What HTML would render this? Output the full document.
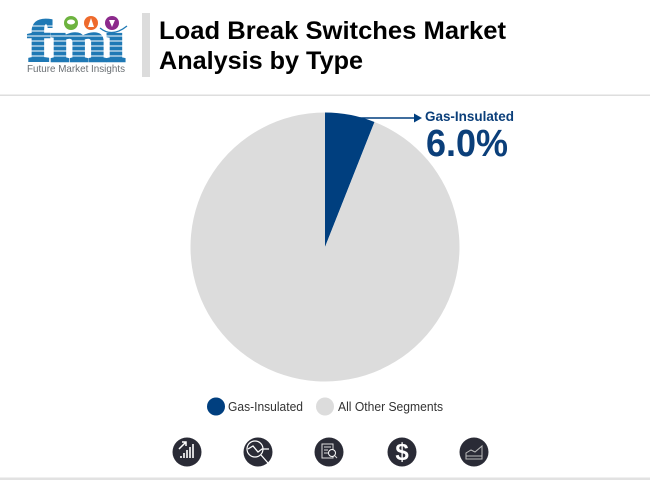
<!DOCTYPE html>
<html lang="en">
<head>
<meta charset="utf-8">
<title>Load Break Switches Market Analysis by Type</title>
<style>
html,body{margin:0;padding:0;background:#fff;width:650px;height:480px;overflow:hidden}
svg{display:block}
text{font-family:"Liberation Sans",sans-serif}
</style>
</head>
<body>
<svg id="chart" width="650" height="480" viewBox="0 0 650 480" xmlns="http://www.w3.org/2000/svg">
  <g>
    <text x="28" y="61" font-size="58" font-weight="700" fill="#1f79b5" stroke="#1f79b5" stroke-width="2.6" textLength="97" lengthAdjust="spacingAndGlyphs" style="font-family:'Liberation Serif',serif">fmı</text>
    <g fill="#fff">
      <rect x="25" y="25.500" width="105" height="1"/>
      <rect x="25" y="30.500" width="105" height="1"/>
      <rect x="25" y="35.500" width="105" height="1"/>
      <rect x="25" y="40.500" width="105" height="1"/>
      <rect x="25" y="45.500" width="105" height="1"/>
      <rect x="25" y="50.500" width="105" height="1"/>
      <rect x="25" y="55.500" width="105" height="1"/>
    </g>
    <circle cx="71" cy="23" r="7" fill="#6db33f"/>
    <ellipse cx="71" cy="22" rx="4" ry="2.500" fill="#fff"/>
    <circle cx="91" cy="23" r="7" fill="#ee6a2c"/>
    <path d="M88 27 L91 18 L94 27 Z" fill="#fff"/>
    <circle cx="112" cy="23" r="7" fill="#8c2a8c"/>
    <path d="M109 20 H115 L112 27 Z" fill="#fff"/>
    <path d="M100 28 Q112 38 127 26" fill="none" stroke="#1f79b5" stroke-width="1.3"/>
    <text x="27" y="72" font-size="10.500" fill="#6a6f73" textLength="98" lengthAdjust="spacingAndGlyphs">Future Market Insights</text>
  </g>
  <rect x="142" y="13" width="8" height="64" fill="#dcdcdc"/>
  <text x="159" y="39" font-size="25" font-weight="700" fill="#000" textLength="347" lengthAdjust="spacingAndGlyphs">Load Break Switches Market</text>
  <text x="159" y="69" font-size="25" font-weight="700" fill="#000" textLength="204" lengthAdjust="spacingAndGlyphs">Analysis by Type</text>
  <rect x="0" y="94.500" width="650" height="1.500" fill="#dedede"/>

  <g id="slices"></g>

  <g>
    <line x1="360" y1="118" x2="415" y2="118" stroke="#003f7f" stroke-width="1.500"/>
    <path d="M414 113.500 L422 118 L414 122.500 Z" fill="#003f7f"/>
    <text id="callout-label" x="425" y="121" font-size="14" font-weight="700" fill="#0b3f7a" textLength="89" lengthAdjust="spacingAndGlyphs"></text>
    <text id="callout-value" x="426" y="156" font-size="38" font-weight="700" fill="#0b3f7a" textLength="82" lengthAdjust="spacingAndGlyphs"></text>
  </g>

  <g>
    <circle cx="216" cy="406.500" r="9" fill="#003f7f"/>
    <text x="228" y="411" font-size="13" fill="#333" textLength="75" lengthAdjust="spacingAndGlyphs">Gas-Insulated</text>
    <circle cx="325" cy="406.500" r="9" fill="#dcdcdc"/>
    <text x="338" y="411" font-size="13" fill="#333" textLength="105" lengthAdjust="spacingAndGlyphs">All Other Segments</text>
  </g>

  <g>
    <g>
      <circle cx="187" cy="452" r="14.500" fill="#2a2b36"/>
      <path d="M179 449 L186 442 M182 442 H186 V446" fill="none" stroke="#fff" stroke-width="1.500"/>
      <path d="M181 458 V456 M184 458 V453 M187 458 V450 M190 458 V447 M193 458 V444" fill="none" stroke="#fff" stroke-width="1.600"/>
    </g>
    <g>
      <circle cx="258" cy="452" r="14.500" fill="#2a2b36"/>
      <circle cx="255" cy="449" r="8" fill="none" stroke="#fff" stroke-width="1.200"/>
      <path d="M248 449 L253 446 L258 452 L262 449 H269 M261 455 L268 463" fill="none" stroke="#fff" stroke-width="1.300"/>
    </g>
    <g>
      <circle cx="329" cy="452" r="14.500" fill="#2a2b36"/>
      <rect x="322" y="444" width="11" height="14" fill="none" stroke="#ddd" stroke-width="1"/>
      <path d="M324 447 H331 M324 450 H328 M324 453 H328" stroke="#ddd" stroke-width="1"/>
      <circle cx="332" cy="453" r="3.500" fill="#2a2b36" stroke="#fff" stroke-width="1"/>
      <path d="M334.500 455.500 L337 458" stroke="#ddd" stroke-width="1"/>
    </g>
    <g>
      <circle cx="402" cy="452" r="14.500" fill="#2a2b36"/>
      <text x="402" y="460" font-size="24" font-weight="700" fill="#fff" text-anchor="middle">$</text>
    </g>
    <g>
      <circle cx="474" cy="452" r="14.500" fill="#2a2b36"/>
      <path d="M466 459 V453 L471 450 L475 452 L482 446 V459 Z" fill="none" stroke="#bbb" stroke-width="1"/>
      <path d="M466 456 H482" stroke="#bbb" stroke-width="1"/>
    </g>
  </g>
  <rect x="0" y="477.500" width="650" height="2.500" fill="#e2e2e2"/>
</svg>
<script>
var categories = ['Gas-Insulated', 'All Other Segments'];
var seriesValues = [6.0, 94.0];
var sliceColors = ['#003f7f', '#dcdcdc'];

var SVG_NS = 'http://www.w3.org/2000/svg';
var centerX = 325, centerY = 247, radius = 134.5;
var total = seriesValues.reduce(function (a, b) { return a + b; }, 0);

function angleOf(value) { return value / total * 2 * Math.PI; }
function pointAt(angle) {
  return [centerX + radius * Math.sin(angle), centerY - radius * Math.cos(angle)];
}

var slicesGroup = document.getElementById('slices');
var cumulative = 0;
seriesValues.forEach(function (value, i) {
  var start = angleOf(cumulative);
  cumulative += value;
  var end = angleOf(cumulative);
  var p0 = pointAt(start), p1 = pointAt(end);
  var large = end - start > Math.PI ? 1 : 0;
  var path = document.createElementNS(SVG_NS, 'path');
  path.setAttribute('d', 'M' + centerX + ' ' + centerY + ' L' + p0[0] + ' ' + p0[1] +
    ' A' + radius + ' ' + radius + ' 0 ' + large + ' 1 ' + p1[0] + ' ' + p1[1] + ' Z');
  path.setAttribute('fill', sliceColors[i]);
  
  
  slicesGroup.appendChild(path);
});

document.getElementById('callout-label').textContent = categories[0];
document.getElementById('callout-value').textContent = seriesValues[0].toFixed(1) + '%';
</script>
</body>
</html>
